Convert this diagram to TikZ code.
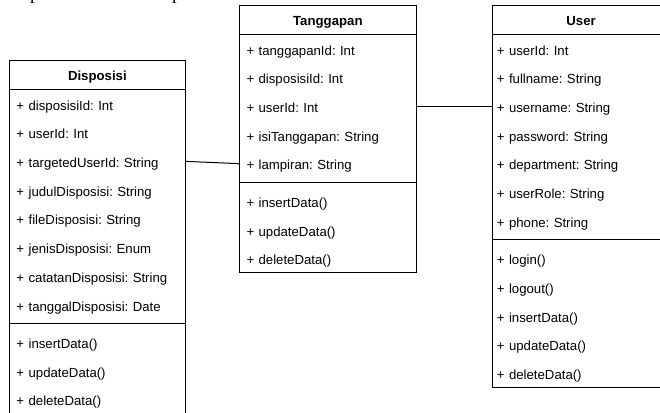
\documentclass[tikz,border=0pt]{standalone}
\usepackage{fontspec}
\setmainfont{Liberation Sans}
\newfontfamily\captionserif{Liberation Serif}
\frenchspacing
\begin{document}
\begin{tikzpicture}[x=1bp,y=-1bp,
  classframe/.style={draw=black, line width=1bp},
  header/.style={anchor=north west, inner sep=0pt, minimum height=28.7bp,
    text height=11.3bp, text depth=0pt, font=\bfseries\fontsize{13.2bp}{16bp}\selectfont},
  member/.style={anchor=north west, inner ysep=0pt, minimum height=28.7bp,
    text height=12.3bp, text depth=0pt, align=left, font=\frenchspacing\fontsize{13.2bp}{16bp}\selectfont},
  link/.style={draw=black, line width=1bp}
]
\useasboundingbox (0,0) rectangle (660,412);
\clip (0,0) rectangle (660,412);

% running text line above the diagram (justified)
\node[anchor=base west, inner sep=0pt, font=\captionserif\fontsize{19bp}{22bp}\selectfont] (caption) at (12,-0.5)
  {\makebox[351bp][s]{dapat dilihat pada Gambar 4.7}};

% ---------------- Disposisi ----------------
\draw[classframe] (9.3,60.7) rectangle (185,413.9);
\draw[classframe] (9.3,89.4) -- (185,89.4);
\draw[classframe] (9.3,323.4) -- (185,323.4);
\node[header, minimum width=175.7bp] (d-title) at (9.3,60.7) {Disposisi};
\tikzset{drow/.style={member, inner xsep=7bp, text width=161.7bp}}
\node[drow] (d-id)   at (9.3,89.4)  {+ disposisiId: Int};
\node[drow] (d-uid)  at (9.3,118.1) {+ userId: Int};
\node[drow] (d-tuid) at (9.3,146.8) {+ targetedUserId: String};
\node[drow] (d-jud)  at (9.3,175.5) {+ judulDisposisi: String};
\node[drow] (d-file) at (9.3,204.2) {+ fileDisposisi: String};
\node[drow] (d-jen)  at (9.3,232.9) {+ jenisDisposisi: Enum};
\node[drow] (d-cat)  at (9.3,261.6) {+ catatanDisposisi: String};
\node[drow] (d-tgl)  at (9.3,290.3) {+ tanggalDisposisi: Date};
\node[drow] (d-ins)  at (9.3,327.8) {+ insertData()};
\node[drow] (d-upd)  at (9.3,356.5) {+ updateData()};
\node[drow] (d-del)  at (9.3,385.2) {+ deleteData()};

% ---------------- Tanggapan ----------------
\draw[classframe] (239.3,5.6) rectangle (416,272.7);
\draw[classframe] (239.3,34.3) -- (416,34.3);
\draw[classframe] (239.3,182.2) -- (416,182.2);
\node[header, minimum width=176.7bp] (t-title) at (239.3,5.6) {Tanggapan};
\tikzset{trow/.style={member, inner xsep=7bp, text width=162.7bp}}
\node[trow] (t-id)   at (239.3,34.3)  {+ tanggapanId: Int};
\node[trow] (t-did)  at (239.3,63.0)  {+ disposisiId: Int};
\node[trow] (t-uid)  at (239.3,91.7)  {+ userId: Int};
\node[trow] (t-isi)  at (239.3,120.4) {+ isiTanggapan: String};
\node[trow] (t-lamp) at (239.3,149.1) {+ lampiran: String};
\node[trow] (t-ins)  at (239.3,186.6) {+ insertData()};
\node[trow] (t-upd)  at (239.3,215.3) {+ updateData()};
\node[trow] (t-del)  at (239.3,244.0) {+ deleteData()};

% ---------------- User ----------------
\draw[classframe] (492.7,5.6) rectangle (669,387.5);
\draw[classframe] (492.7,34.3) -- (669,34.3);
\draw[classframe] (492.7,239.6) -- (669,239.6);
\node[header, minimum width=176.3bp] (u-title) at (492.7,5.6) {User};
\tikzset{urow/.style={member, inner xsep=4bp, text width=168.3bp}}
\node[urow] (u-id)    at (492.7,34.3)  {+ userId: Int};
\node[urow] (u-full)  at (492.7,63.0)  {+ fullname: String};
\node[urow] (u-uname) at (492.7,91.7)  {+ username: String};
\node[urow] (u-pass)  at (492.7,120.4) {+ password: String};
\node[urow] (u-dept)  at (492.7,149.1) {+ department: String};
\node[urow] (u-role)  at (492.7,177.8) {+ userRole: String};
\node[urow] (u-phone) at (492.7,206.5) {+ phone: String};
\node[urow] (u-login) at (492.7,244.0) {+ login()};
\node[urow] (u-logout) at (492.7,272.7) {+ logout()};
\node[urow] (u-ins)   at (492.7,301.4) {+ insertData()};
\node[urow] (u-upd)   at (492.7,330.1) {+ updateData()};
\node[urow] (u-del)   at (492.7,358.8) {+ deleteData()};

% ---------------- associations ----------------
\draw[link] (d-tuid.east) -- (t-lamp.west);
\draw[link] (t-uid.east) -- (u-uname.west);
\end{tikzpicture}
\end{document}
